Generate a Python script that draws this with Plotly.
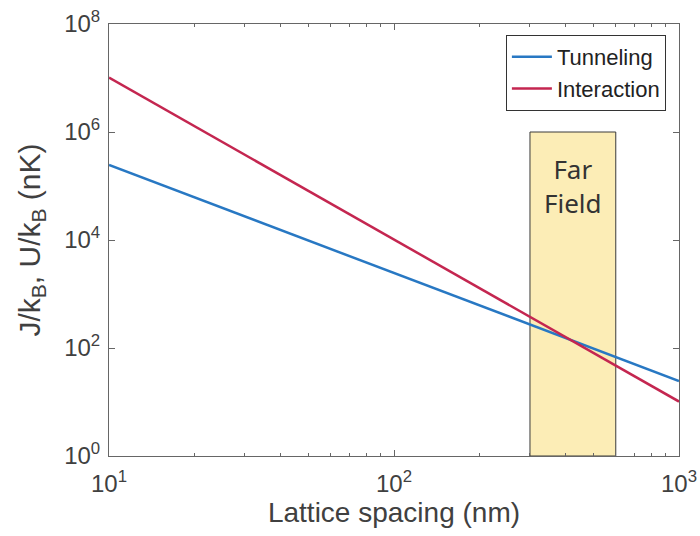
import plotly.graph_objects as go

# Data
spacing_nm = [10, 100, 1000]
tunneling = [2.45e5, 2.45e3, 24.5]
interaction = [1.02e7, 1.02e4, 10.2]
far_field_x = [300, 600]
far_field_top = 1e6

x_tickvals = [10, 100, 1000]
x_ticktext = ["10<sup>1</sup>", "10<sup>2</sup>", "10<sup>3</sup>"]
x_minor = [20, 30, 40, 50, 60, 70, 80, 90, 200, 300, 400, 500, 600, 700, 800, 900]
y_tickvals = [1, 1e2, 1e4, 1e6, 1e8]
y_ticktext = ["10<sup>0</sup>", "10<sup>2</sup>", "10<sup>4</sup>", "10<sup>6</sup>", "10<sup>8</sup>"]

blue = "#2878C3"
red = "#C42650"
textc = "#404040"
axc = "#666666"
font_family = "Liberation Sans, Arial, Helvetica, sans-serif"

fig = go.Figure()

fig.add_shape(type="rect", xref="x", yref="y",
              x0=far_field_x[0], x1=far_field_x[1], y0=1, y1=far_field_top,
              fillcolor="#FCEDB6", line=dict(color="#3a3a3a", width=1), layer="below")

fig.add_trace(go.Scatter(x=spacing_nm, y=tunneling, mode="lines", name="Tunneling",
                         line=dict(color=blue, width=2.5)))
fig.add_trace(go.Scatter(x=spacing_nm, y=interaction, mode="lines", name="Interaction",
                         line=dict(color=red, width=2.5)))

fig.add_annotation(x=(2.4771 + 2.7782) / 2, y=5.0, xref="x", yref="y",
                   text="Far<br>Field", showarrow=False,
                   font=dict(family="Noto Sans, Open Sans, sans-serif", size=26, color="#333333"),
                   align="center", xanchor="center", yanchor="middle")

fig.update_layout(
    width=700, height=536,
    margin=dict(l=109, r=21, t=24, b=80),
    paper_bgcolor="white", plot_bgcolor="white",
    font=dict(family=font_family, color=textc),
    showlegend=True,
    legend=dict(x=0.977, y=0.9745, xanchor="right", yanchor="top",
                bgcolor="white", bordercolor="#333333", borderwidth=1,
                font=dict(family=font_family, size=22, color="#222222"), tracegroupgap=0,
                itemwidth=40),
    xaxis=dict(type="log", range=[1, 3], tickvals=x_tickvals, ticktext=x_ticktext,
               ticks="inside", ticklen=6, tickcolor=axc, showline=True, linecolor=axc,
               linewidth=1, mirror="allticks", showgrid=False, zeroline=False,
               automargin=False, ticklabelstandoff=6,
               tickfont=dict(family=font_family, size=24, color=textc),
               minor=dict(ticks="inside", ticklen=3, tickcolor=axc, tickvals=x_minor),
               title=dict(text="Lattice spacing (nm)", font=dict(family=font_family, size=28, color=textc), standoff=4)),
    yaxis=dict(type="log", range=[0, 8], tickvals=y_tickvals, ticktext=y_ticktext,
               ticks="inside", ticklen=6, tickcolor=axc, showline=True, linecolor=axc,
               linewidth=1, mirror="allticks", showgrid=False, zeroline=False,
               automargin=False, ticklabelstandoff=3,
               tickfont=dict(family=font_family, size=24, color=textc),
               title=dict(text="J/k<sub>B</sub>, U/k<sub>B</sub> (nK)", font=dict(family=font_family, size=30, color=textc), standoff=14)),
)

fig.write_html("out.html", config={"displayModeBar": False},
               post_script="document.body.style.margin='0';document.body.style.padding='0';")
